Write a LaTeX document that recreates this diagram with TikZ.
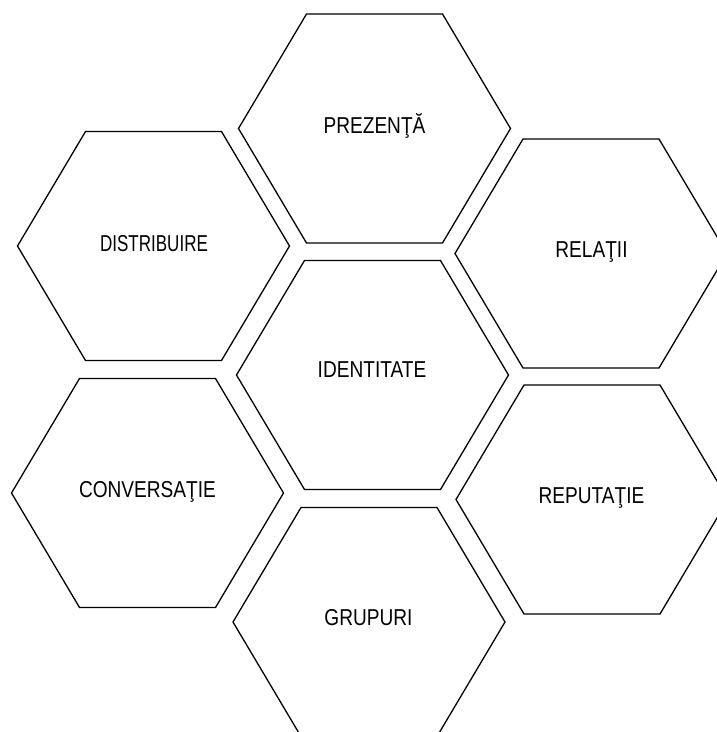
\documentclass[tikz,border=0pt]{standalone}
\usepackage{fontspec}
\newfontfamily\hexfont[FakeStretch=0.83]{Liberation Sans}
\newfontfamily\hexfontn[FakeStretch=0.74]{Liberation Sans}
\tikzset{
  hexline/.style={line width=1.3pt, line join=miter},
  hexlabel/.style={anchor=base, inner sep=0pt, font=\fontsize{23}{23}\selectfont\hexfont},
  hexlabeln/.style={anchor=base, inner sep=0pt, font=\fontsize{23}{23}\selectfont\hexfontn},
  pics/hexcell/.style={code={
    \draw[hexline] (-136,0) -- (-68,-114.5) -- (68,-114.5) -- (136,0) -- (68,114.5) -- (-68,114.5) -- cycle;
  }}
}
\begin{document}
\begin{tikzpicture}[x=1pt,y=-1pt]
\useasboundingbox (0,0) rectangle (717,732);
\clip (0,0) rectangle (717,732);
\fill[white] (0,0) rectangle (717,732);
% hexagons
\pic at (374.5,128.5) {hexcell};
\pic at (153.5,246) {hexcell};
\pic at (591,253.5) {hexcell};
\pic at (372.5,375) {hexcell};
\pic at (147.5,493) {hexcell};
\pic at (592,499.5) {hexcell};
\pic at (369,622) {hexcell};
% labels
\node[hexlabel] (prezenta) at (374.5,133.3) {PREZENŢĂ};
\node[hexlabeln] (distributie) at (154,251.7) {DISTRIBUIRE};
\node[hexlabel] (relatii) at (591.5,257.3) {RELAŢII};
\node[hexlabel] (identitate) at (372,377.7) {IDENTITATE};
\node[hexlabel] (conversatie) at (147.5,497.3) {CONVERSAŢIE};
\node[hexlabel] (reputatie) at (591.5,503.3) {REPUTAŢIE};
\node[hexlabel] (grupuri) at (368.5,625) {GRUPURI};
\end{tikzpicture}
\end{document}
